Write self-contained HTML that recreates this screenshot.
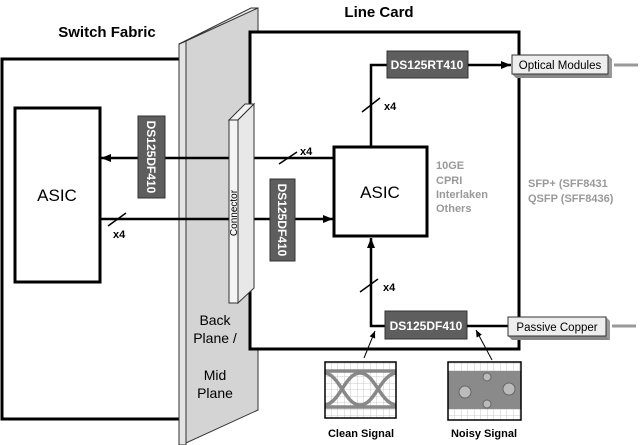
<!DOCTYPE html>
<html><head><meta charset="utf-8"><style>
html,body{margin:0;padding:0;background:#fff;}
svg{display:block;font-family:"Liberation Sans",Arial,sans-serif;}
</style></head><body>
<svg width="640" height="445" viewBox="0 0 640 445" xmlns="http://www.w3.org/2000/svg">
<defs>
<marker id="ah" markerWidth="10" markerHeight="8" refX="10" refY="4" orient="auto" markerUnits="userSpaceOnUse">
<path d="M0,0 L10,4 L0,8 z" fill="#000"/></marker>
<marker id="as" markerWidth="7" markerHeight="6" refX="7" refY="3" orient="auto" markerUnits="userSpaceOnUse">
<path d="M0,0 L7,3 L0,6 z" fill="#000"/></marker>
<pattern id="grid" width="6.5" height="6.5" patternUnits="userSpaceOnUse">
<path d="M6.5,0 V6.5 M0,6.5 H6.5" stroke="#bbb" stroke-width="0.8" fill="none"/></pattern>
</defs>

<!-- titles -->
<text x="107" y="37" font-size="15" font-weight="bold" text-anchor="middle">Switch Fabric</text>
<text x="379" y="17" font-size="15" font-weight="bold" text-anchor="middle">Line Card</text>

<!-- switch fabric box -->
<rect x="2" y="59" width="185" height="360" fill="#fff" stroke="#000" stroke-width="3"/>

<!-- backplane -->
<polygon points="179,44 186,41 186,445 179,445" fill="#e4e4e4" stroke="#333" stroke-width="1"/>
<polygon points="179,44 251,8 258,8 186,41" fill="#eee" stroke="#333" stroke-width="1"/>
<polygon points="186,41 258,8 258,410 186,443" fill="#d4d4d4" stroke="#333" stroke-width="1"/>

<!-- line card box -->
<rect x="250" y="32" width="269" height="317" fill="#fff" stroke="#000" stroke-width="3"/>

<!-- left ASIC -->
<rect x="15" y="108" width="85" height="174" fill="#fff" stroke="#000" stroke-width="3"/>
<text x="57" y="201" font-size="17" text-anchor="middle">ASIC</text>

<!-- right ASIC -->
<rect x="334" y="147" width="93" height="89" fill="#fff" stroke="#000" stroke-width="3"/>
<text x="380" y="198" font-size="17" text-anchor="middle">ASIC</text>

<!-- horizontal lines -->
<line x1="334" y1="158" x2="101" y2="158" stroke="#000" stroke-width="2.5" marker-end="url(#ah)"/>
<line x1="100" y1="219" x2="333" y2="219" stroke="#000" stroke-width="2.5" marker-end="url(#ah)"/>
<line x1="108" y1="226" x2="126" y2="213" stroke="#000" stroke-width="1.5"/>
<text x="113" y="238" font-size="11" font-weight="bold">x4</text>
<line x1="279" y1="164" x2="297" y2="152" stroke="#000" stroke-width="1.5"/>
<text x="300" y="155" font-size="11" font-weight="bold">x4</text>

<!-- connector -->
<polygon points="229,120 245,104 254,104 238,120" fill="#f2f2f2" stroke="#333" stroke-width="1"/>
<polygon points="238,120 254,104 254,288 238,303" fill="#e8e8e8" stroke="#333" stroke-width="1"/>
<rect x="229" y="120" width="9" height="183" fill="#f4f4f4" stroke="#333" stroke-width="1"/>
<text transform="translate(237,213) rotate(-90)" font-size="10" text-anchor="middle">Connector</text>

<!-- DS boxes vertical -->
<rect x="138" y="116" width="27" height="82" fill="#5e5e5e" stroke="#333" stroke-width="1"/>
<text transform="translate(147,157) rotate(90)" font-size="12" font-weight="bold" fill="#fff" text-anchor="middle">DS125DF410</text>
<rect x="270" y="179" width="25" height="82" fill="#5e5e5e" stroke="#333" stroke-width="1"/>
<text transform="translate(278,220) rotate(90)" font-size="12" font-weight="bold" fill="#fff" text-anchor="middle">DS125DF410</text>

<!-- upper path -->
<polyline points="371,147 371,65 387,65" fill="none" stroke="#000" stroke-width="2.5"/>
<line x1="362" y1="112" x2="380" y2="98" stroke="#000" stroke-width="1.5"/>
<text x="384" y="110" font-size="11" font-weight="bold">x4</text>
<rect x="387" y="51" width="81" height="27" fill="#5e5e5e" stroke="#333" stroke-width="1"/>
<text x="427" y="69" font-size="12" font-weight="bold" fill="#fff" text-anchor="middle">DS125RT410</text>
<line x1="468" y1="65" x2="511" y2="65" stroke="#000" stroke-width="2.5" marker-end="url(#ah)"/>

<!-- optical module -->
<polygon points="512,74 608,74 612,78 516,78" fill="#888"/>
<polygon points="608,55 612,59 612,78 608,74" fill="#999"/>
<rect x="512" y="55" width="96" height="19" fill="#eee" stroke="#333" stroke-width="1"/>
<text x="560" y="69" font-size="11.5" text-anchor="middle">Optical Modules</text>
<line x1="614" y1="65" x2="638" y2="65" stroke="#999" stroke-width="3"/>

<!-- grey texts -->
<g fill="#999" font-size="11" font-weight="bold">
<text x="436" y="169">10GE</text><text x="436" y="184">CPRI</text>
<text x="436" y="198">Interlaken</text><text x="436" y="212">Others</text>
<text x="528" y="187">SFP+ (SFF8431</text><text x="528" y="202">QSFP (SFF8436)</text>
</g>

<!-- lower path -->
<polyline points="385,326 371,326 371,238" fill="none" stroke="#000" stroke-width="2.5" marker-end="url(#ah)"/>
<line x1="360" y1="292" x2="378" y2="279" stroke="#000" stroke-width="1.5"/>
<text x="383" y="291" font-size="11" font-weight="bold">x4</text>
<rect x="385" y="311" width="82" height="28" fill="#5e5e5e" stroke="#333" stroke-width="1"/>
<text x="426" y="330" font-size="12" font-weight="bold" fill="#fff" text-anchor="middle">DS125DF410</text>
<line x1="467" y1="326" x2="509" y2="326" stroke="#000" stroke-width="2.5"/>

<!-- passive copper -->
<polygon points="508,336 606,336 610,340 512,340" fill="#888"/>
<polygon points="606,317 610,321 610,340 606,336" fill="#999"/>
<rect x="508" y="317" width="98" height="19" fill="#eee" stroke="#333" stroke-width="1"/>
<text x="557" y="331" font-size="11.5" text-anchor="middle">Passive Copper</text>
<line x1="612" y1="326" x2="636" y2="326" stroke="#999" stroke-width="3"/>

<!-- signal arrows -->
<line x1="364" y1="358" x2="375" y2="331" stroke="#000" stroke-width="1" marker-end="url(#as)"/>
<line x1="492" y1="360" x2="476" y2="330" stroke="#000" stroke-width="1" marker-end="url(#as)"/>

<!-- clean eye -->
<rect x="325" y="362" width="71" height="56" fill="#fff"/>
<rect x="325" y="362" width="71" height="56" fill="url(#grid)"/>
<g stroke="#888" stroke-width="3.5" fill="none">
<line x1="325" y1="371" x2="396" y2="371"/><line x1="325" y1="407" x2="396" y2="407"/>
<path d="M325,373 C340,375 345,405 360,405 C375,405 380,375 396,373"/>
<path d="M325,405 C340,403 345,373 360,373 C375,373 380,403 396,405"/>
</g>
<rect x="325" y="362" width="71" height="56" fill="none" stroke="#000" stroke-width="1.5"/>
<text x="361" y="437" font-size="11" font-weight="bold" text-anchor="middle">Clean Signal</text>

<!-- noisy eye -->
<rect x="448" y="362" width="73" height="58" fill="#fff"/>
<rect x="448" y="362" width="73" height="58" fill="url(#grid)"/>
<rect x="448" y="371" width="73" height="38" fill="#8a8a8a"/>
<g fill="#bbb" stroke="#666" stroke-width="1">
<circle cx="465" cy="392" r="6"/><circle cx="509" cy="389" r="6"/><circle cx="487" cy="377" r="4"/><circle cx="487" cy="404" r="4"/>
</g>
<rect x="448" y="362" width="73" height="58" fill="none" stroke="#000" stroke-width="1.5"/>
<text x="484" y="437" font-size="11" font-weight="bold" text-anchor="middle">Noisy Signal</text>

<!-- backplane text -->
<g font-size="14" text-anchor="middle">
<text x="215" y="325">Back</text><text x="215" y="343">Plane /</text>
<text x="215" y="380">Mid</text><text x="215" y="398">Plane</text>
</g>
</svg>
</body></html>
